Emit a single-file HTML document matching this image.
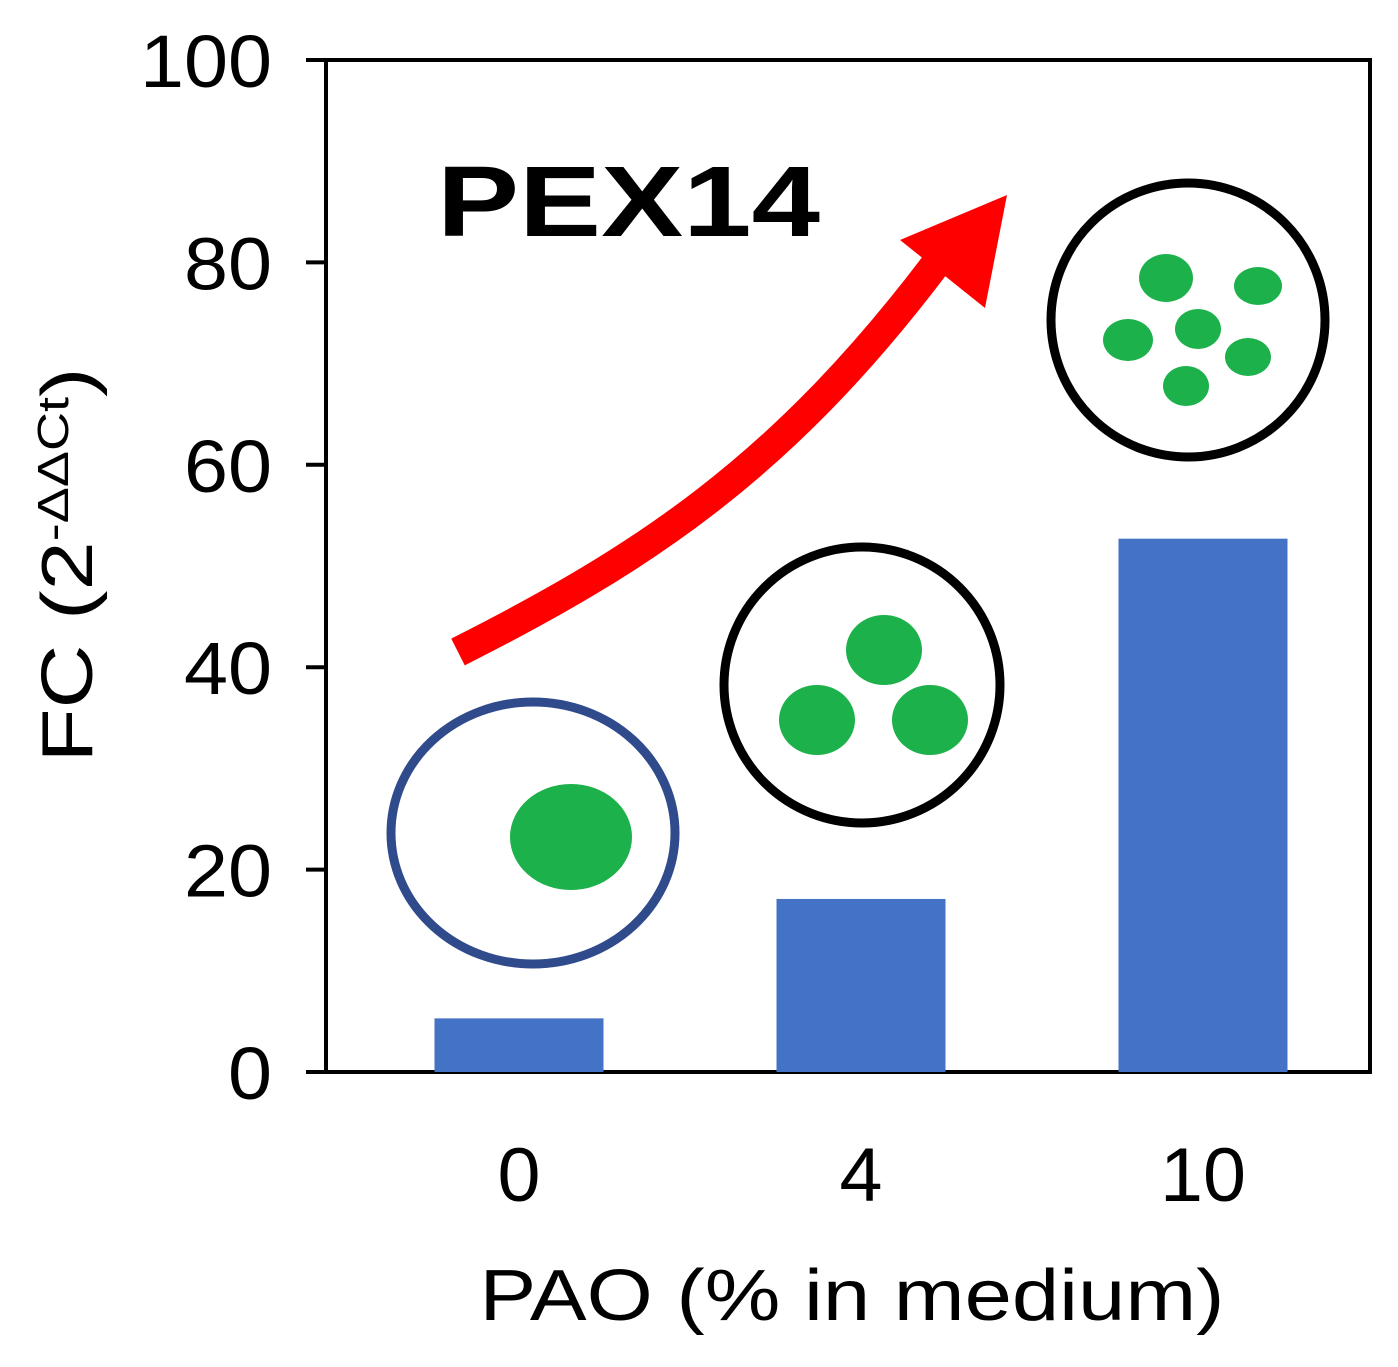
<!DOCTYPE html>
<html><head><meta charset="utf-8"><style>
html,body{margin:0;padding:0;background:#fff;}
svg{display:block;font-family:"Liberation Sans",Arial,sans-serif;}
</style></head><body>
<svg id="chart" width="1398" height="1367" viewBox="0 0 1398 1367">
<rect x="326" y="60" width="1044" height="1012" fill="none" stroke="#000" stroke-width="4"/>
<g id="bars"></g>
<g id="yticks"></g>
<g id="xticks"></g>
<text transform="translate(92,565) rotate(-90)" text-anchor="middle" font-size="72" textLength="395" lengthAdjust="spacingAndGlyphs">FC (2<tspan font-size="44" dy="-24">-ΔΔCt</tspan><tspan dy="24">)</tspan></text>
<text x="852" y="1320" text-anchor="middle" font-size="72" textLength="745" lengthAdjust="spacingAndGlyphs">PAO (% in medium)</text>
<text x="437" y="236" font-size="100" font-weight="bold" textLength="383" lengthAdjust="spacingAndGlyphs">PEX14</text>
<g>
<path d="M458,652 C640,560 780,470 935,265" fill="none" stroke="#ff0000" stroke-width="30"/>
<polygon points="1007,195 985,308 900,240" fill="#ff0000"/>
</g>
<g>
<ellipse cx="533" cy="833" rx="142" ry="131" fill="none" stroke="#2f4b8c" stroke-width="9"/>
<ellipse cx="571" cy="837" rx="61" ry="53" fill="#1db14b"/>
</g>
<g>
<circle cx="862" cy="685" r="138" fill="#fff" stroke="#000" stroke-width="9"/>
<ellipse cx="884" cy="650" rx="38" ry="35" fill="#1db14b"/>
<ellipse cx="817" cy="720" rx="38" ry="35" fill="#1db14b"/>
<ellipse cx="930" cy="720" rx="38" ry="35" fill="#1db14b"/>
</g>
<g>
<circle cx="1188" cy="320" r="137" fill="#fff" stroke="#000" stroke-width="9"/>
<ellipse cx="1166" cy="278" rx="27" ry="24" fill="#1db14b"/>
<ellipse cx="1258" cy="286" rx="24" ry="19" fill="#1db14b"/>
<ellipse cx="1128" cy="340" rx="25" ry="21" fill="#1db14b"/>
<ellipse cx="1198" cy="329" rx="23" ry="20" fill="#1db14b"/>
<ellipse cx="1248" cy="357" rx="23" ry="19" fill="#1db14b"/>
<ellipse cx="1186" cy="386" rx="23" ry="20" fill="#1db14b"/>
</g>
</svg>
<script>
const categories = ["0","4","10"];
const values = [5.3, 17.1, 52.7];
const yTicks = [0,20,40,60,80,100];
const ns="http://www.w3.org/2000/svg";
function y(v){return 1072 - v*10.12;}
function x(i){return 519 + i*342;}
const bw=169;
const gb=document.getElementById('bars'), gy=document.getElementById('yticks'), gx=document.getElementById('xticks');
values.forEach((v,i)=>{
 const r=document.createElementNS(ns,'rect');
 
 
 r.setAttribute('x',x(i)-bw/2);r.setAttribute('y',y(v));
 r.setAttribute('width',bw);r.setAttribute('height',1072-y(v));
 r.setAttribute('fill','#4472c4');gb.appendChild(r);
});
yTicks.forEach(t=>{
 const l=document.createElementNS(ns,'line');
 
 
 l.setAttribute('x1',306);l.setAttribute('x2',326);l.setAttribute('y1',y(t));l.setAttribute('y2',y(t));
 l.setAttribute('stroke','#000');l.setAttribute('stroke-width',4);gy.appendChild(l);
 const tx=document.createElementNS(ns,'text');
 
 
 tx.setAttribute('x',272);tx.setAttribute('y',y(t)+27);tx.setAttribute('text-anchor','end');
 tx.setAttribute('font-size','74');
 tx.setAttribute('textLength',String(t).length*44);
 tx.setAttribute('lengthAdjust','spacingAndGlyphs');
 tx.textContent=t;gy.appendChild(tx);
});
categories.forEach((c,i)=>{
 const tx=document.createElementNS(ns,'text');
 
 
 tx.setAttribute('x',x(i));tx.setAttribute('y',1201);tx.setAttribute('text-anchor','middle');
 tx.setAttribute('font-size','76');
 tx.setAttribute('textLength',c.length*43);
 tx.setAttribute('lengthAdjust','spacingAndGlyphs');
 tx.textContent=c;gx.appendChild(tx);
});
</script>
</body></html>
